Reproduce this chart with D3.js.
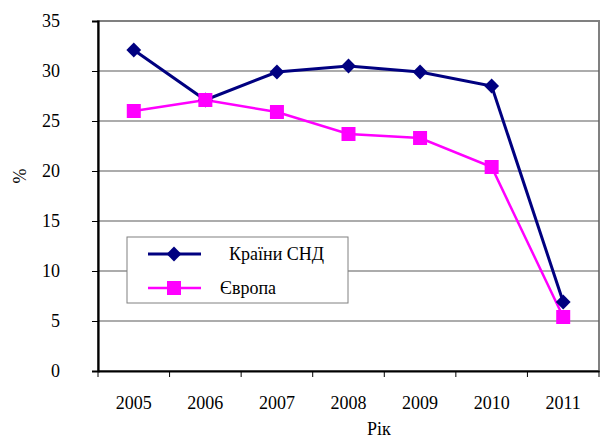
<!DOCTYPE html>
<html><head><meta charset="utf-8">
<script src="https://cdn.jsdelivr.net/npm/d3@7"></script>
<style>body{margin:0;background:#fff}svg{display:block}</style>
</head><body><svg id="c" width="607" height="438"></svg>
<script>
const years = ["2005","2006","2007","2008","2009","2010","2011"];
const cis = [32.1, 27.1, 29.9, 30.5, 29.9, 28.5, 6.9];
const europe = [26.0, 27.1, 25.9, 23.7, 23.3, 20.4, 5.4];
const yTicks = [0,5,10,15,20,25,30,35];
const seriesNames = ["Країни СНД", "Європа"];

const FONT = "'Liberation Serif', 'Times New Roman', Times, Tinos, 'DejaVu Serif', 'Noto Serif', serif";
const svg = d3.select("#c").style("font-family", FONT);
const L=98, R=599, T=21, B=371;
const x = d3.scaleBand().domain(years).range([L,R]);
const y = d3.scaleLinear().domain([0,35]).range([B,T]);

svg.append("rect").attr("x",L).attr("y",T).attr("width",R-L).attr("height",B-T)
  .attr("fill","#fff").attr("stroke","#808080").attr("stroke-width",2);
svg.append("g").selectAll("line").data(yTicks.filter(d=>d>0&&d<35)).join("line")
  .attr("x1",L).attr("x2",R).attr("y1",d=>y(d)).attr("y2",d=>y(d))
  .attr("stroke","#5a5a5a").attr("stroke-width",1.2);

const ya = svg.append("g").attr("transform",`translate(${L},0)`)
  .call(d3.axisLeft(y).tickValues(yTicks).tickSize(6).tickPadding(32));
ya.attr("font-family", null);
ya.select(".domain").attr("stroke","#000").attr("stroke-width",2.2);
ya.selectAll(".tick line").attr("stroke","#000");
ya.selectAll("text").attr("font-size",18).attr("fill","#000").style("font-family",FONT);
const xa = svg.append("g").attr("transform",`translate(0,${B})`)
  .call(d3.axisBottom(x).tickSize(0).tickPadding(25));
xa.attr("font-family", null);
xa.select(".domain").attr("stroke","#000").attr("stroke-width",2.2);
xa.selectAll("text").attr("font-size",18).attr("fill","#000").style("font-family",FONT);
svg.append("g").selectAll("line").data(years.map(d=>x(d)).concat([R])).join("line")
  .attr("x1",d=>d).attr("x2",d=>d).attr("y1",B).attr("y2",B+6).attr("stroke","#000").attr("stroke-width",1);

const cx = d=>x(d)+x.bandwidth()/2;
const line = d3.line().x((d,i)=>cx(years[i])).y(d=>y(d));

svg.append("path").datum(cis).attr("d",line).attr("fill","none").attr("stroke","#000080").attr("stroke-width",3);
svg.append("path").datum(europe).attr("d",line).attr("fill","none").attr("stroke","#FF00FF").attr("stroke-width",2.5);

const diamond = d3.symbol().type(d3.symbolSquare).size(110);
svg.append("g").selectAll("path").data(cis).join("path")
  .attr("d",diamond()).attr("fill","#000080")
  .attr("transform",(d,i)=>`translate(${cx(years[i])},${y(d)}) rotate(45)`);
svg.append("g").selectAll("rect").data(europe).join("rect")
  .attr("x",(d,i)=>cx(years[i])-7).attr("y",d=>y(d)-7).attr("width",14).attr("height",14)
  .attr("fill","#FF00FF");

const lg = svg.append("g");
lg.append("rect").attr("x",127).attr("y",237).attr("width",221).attr("height",66)
  .attr("fill","#fff").attr("stroke","#808080").attr("stroke-width",1);
lg.append("line").attr("x1",148).attr("x2",201).attr("y1",254).attr("y2",254).attr("stroke","#000080").attr("stroke-width",3);
lg.append("path").attr("d",diamond()).attr("fill","#000080").attr("transform","translate(174,254) rotate(45)");
lg.append("line").attr("x1",148).attr("x2",201).attr("y1",288).attr("y2",288).attr("stroke","#FF00FF").attr("stroke-width",2.5);
lg.append("rect").attr("x",167).attr("y",281).attr("width",14).attr("height",14).attr("fill","#FF00FF");
lg.append("text").attr("x",229).attr("y",260).attr("font-size",18).style("font-family",FONT).text(seriesNames[0]);
lg.append("text").attr("x",220).attr("y",294).attr("font-size",18).style("font-family",FONT).text(seriesNames[1]);

svg.append("text").attr("transform","translate(26,176) rotate(-90)").attr("text-anchor","middle").attr("font-size",18).style("font-family",FONT).text("%");
svg.append("text").attr("x",379).attr("y",435).attr("text-anchor","middle").attr("font-size",18).style("font-family",FONT).text("Рік");
</script></body></html>
